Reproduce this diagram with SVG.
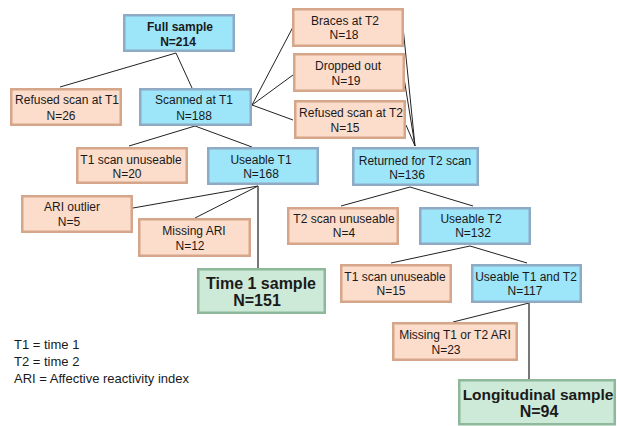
<svg xmlns="http://www.w3.org/2000/svg" width="617" height="426" viewBox="0 0 617 426">
<style>
  text { font-family: "Liberation Sans", Arial, sans-serif; font-size: 12px; fill: #1a1a1a; text-anchor: middle; }
  .b { font-weight: bold; }
  .big { font-weight: bold; font-size: 16px; }
  .leg { text-anchor: start; font-size: 13px; }
  .blue rect { fill: #9de5f9; stroke: #8eaac4; stroke-width: 2.5; }
  .peach rect { fill: #fcdcca; stroke: #d6a68b; stroke-width: 2.5; }
  .green rect { fill: #cde9d8; stroke: #8db89a; stroke-width: 2.5; }
  #connectors line { stroke: #222; stroke-width: 1; }
  #connectors line.v { stroke: #555; stroke-width: 1.6; }
</style>
<rect width="617" height="426" fill="#ffffff"/>
<g id="connectors">
  <line x1="176" y1="53" x2="60" y2="87"/>
  <line x1="176" y1="53" x2="192" y2="88"/>
  <line x1="252" y1="105" x2="293" y2="27"/>
  <line x1="252" y1="105" x2="293" y2="75"/>
  <line x1="252" y1="105" x2="293" y2="120"/>
  <line x1="195" y1="126" x2="129" y2="146"/>
  <line x1="195" y1="126" x2="252" y2="147"/>
  <line x1="403" y1="27" x2="415" y2="146"/>
  <line x1="404" y1="78" x2="415" y2="146"/>
  <line x1="406" y1="125" x2="415" y2="146"/>
  <line x1="258" y1="186" x2="133" y2="208"/>
  <line x1="258" y1="186" x2="195" y2="218"/>
  <line class="v" x1="258" y1="186" x2="258" y2="268"/>
  <line x1="410" y1="187" x2="341" y2="206"/>
  <line x1="410" y1="187" x2="473" y2="206"/>
  <line x1="470" y1="246" x2="391" y2="263"/>
  <line x1="470" y1="246" x2="527" y2="263"/>
  <line x1="529" y1="303" x2="453" y2="322"/>
  <line class="v" x1="529" y1="303" x2="529" y2="379"/>
</g>
<g id="full" class="blue"><rect x="124.25" y="15.25" width="109.5" height="35.5"/><text class="b" x="180" y="31">Full sample</text><text class="b" x="178" y="46">N=214</text></g>
<g id="refusedT1" class="peach"><rect x="11.25" y="89.25" width="109.5" height="35.5"/><text x="67" y="104">Refused scan at T1</text><text x="61" y="120">N=26</text></g>
<g id="scannedT1" class="blue"><rect x="140.25" y="89.25" width="110.5" height="35.5"/><text x="194" y="104">Scanned at T1</text><text x="194" y="120">N=188</text></g>
<g id="t1unuseable" class="peach"><rect x="77.25" y="148.25" width="109.5" height="34.5"/><text x="131" y="164">T1 scan unuseable</text><text x="127" y="178">N=20</text></g>
<g id="useableT1" class="blue"><rect x="208.25" y="148.25" width="109.5" height="35.5"/><text x="261" y="164">Useable T1</text><text x="261" y="178">N=168</text></g>
<g id="braces" class="peach"><rect x="293.25" y="9.25" width="109.5" height="36.5"/><text x="345" y="25">Braces at T2</text><text x="344" y="39">N=18</text></g>
<g id="dropped" class="peach"><rect x="294.25" y="54.25" width="109.5" height="36.5"/><text x="348" y="70">Dropped out</text><text x="346" y="85">N=19</text></g>
<g id="refusedT2" class="peach"><rect x="295.25" y="101.25" width="109.5" height="36.5"/><text x="351" y="117">Refused scan at T2</text><text x="345" y="132">N=15</text></g>
<g id="returned" class="blue"><rect x="353.25" y="148.25" width="124.5" height="36.5"/><text x="415" y="165">Returned for T2 scan</text><text x="407" y="179">N=136</text></g>
<g id="ariOutlier" class="peach"><rect x="22.25" y="196.25" width="109.5" height="35.5"/><text x="72" y="211">ARI outlier</text><text x="69" y="226">N=5</text></g>
<g id="missingARI" class="peach"><rect x="139.25" y="219.25" width="110.5" height="36.5"/><text x="194" y="235">Missing ARI</text><text x="190" y="250">N=12</text></g>
<g id="t2unuseable" class="peach"><rect x="288.25" y="208.25" width="109.5" height="35.5"/><text x="344" y="223">T2 scan unuseable</text><text x="344" y="237">N=4</text></g>
<g id="useableT2" class="blue"><rect x="420.25" y="208.25" width="109.5" height="35.5"/><text x="471" y="223">Useable T2</text><text x="473" y="237">N=132</text></g>
<g id="t1unuseable2" class="peach"><rect x="341.25" y="265.25" width="109.5" height="36.5"/><text x="395" y="281">T1 scan unuseable</text><text x="391" y="295">N=15</text></g>
<g id="useableT1T2" class="blue"><rect x="472.25" y="265.25" width="108.5" height="36.5"/><text x="526" y="281">Useable T1 and T2</text><text x="525" y="295">N=117</text></g>
<g id="time1" class="green"><rect x="198.25" y="269.25" width="126.5" height="43.5"/><text class="big" x="261" y="289">Time 1 sample</text><text class="big" x="257" y="306">N=151</text></g>
<g id="missingT1T2" class="peach"><rect x="393.25" y="323.25" width="123.5" height="36.5"/><text x="455" y="339">Missing T1 or T2 ARI</text><text x="446" y="354">N=23</text></g>
<g id="longitudinal" class="green"><rect x="459.25" y="380.25" width="155.5" height="44"/><text class="big" x="538" y="400" style="font-size:15.5px">Longitudinal sample</text><text class="big" x="539" y="417">N=94</text></g>
<g id="legend">
  <text class="leg" x="14" y="349">T1 = time 1</text>
  <text class="leg" x="14" y="366">T2 = time 2</text>
  <text class="leg" x="14" y="383">ARI = Affective reactivity index</text>
</g>
</svg>
